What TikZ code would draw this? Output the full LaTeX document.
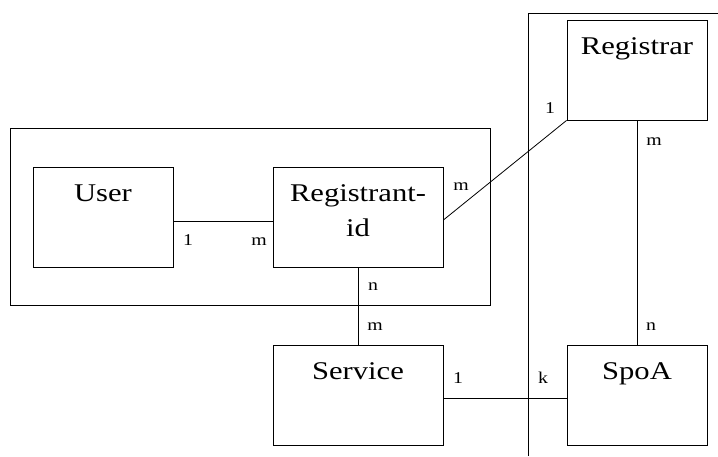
\documentclass[tikz,border=0pt]{standalone}
\usepackage{fontspec}
\setmainfont{Liberation Serif}[FakeStretch=1.2]
\newcommand{\boxfont}{\fontsize{25.5}{35}\selectfont}
\newcommand{\cardfont}{\fontsize{16.5}{20}\selectfont}

\begin{document}
\begin{tikzpicture}[x=1pt, y=-1pt, line width=0.8pt,
		entity/.style={draw, rectangle, inner sep=0pt, text height=34pt, text depth=66pt, minimum height=100pt, font=\boxfont},
		card/.style={anchor=base, inner sep=0pt, font=\cardfont}]
		\useasboundingbox (0,0) rectangle (718,456);

		% groups
		\draw (10,128) rectangle (490,305);
		\draw (528,456) -- (528,13) -- (718,13);

		% entities
		\node[entity, minimum width=140pt] (user) at (103,217) {User};
		\node[entity, minimum width=170pt] (regid) at (358,217) {\begin{tabular}[t]{@{}c@{}}Registrant-\\id\end{tabular}};
		\node[entity, minimum width=170pt] (service) at (358,395) {Service};
		\node[entity, minimum width=140pt] (registrar) at (637,70) {Registrar};
		\node[entity, minimum width=140pt] (spoa) at (637,395) {SpoA};

		% relations
		\draw ([yshift=-4pt]user.east) -- ([yshift=-4pt]regid.west);
		\draw ([yshift=-3pt]regid.east) -- (registrar.south west);
		\draw (regid.south) -- (service.north);
		\draw (registrar.south) -- (spoa.north);
		\draw ([yshift=-3pt]service.east) -- ([yshift=-3pt]spoa.west);

		% cardinalities
		\node[card] (user-card) at (188,245) {1};
		\node[card] (regid-card-w) at (259,245) {m};
		\node[card] (regid-card-e) at (461,190) {m};
		\node[card] (registrar-card-w) at (550,113) {1};
		\node[card] (registrar-card-s) at (654,145) {m};
		\node[card] (regid-card-s) at (373,290) {n};
		\node[card] (service-card-n) at (375,330) {m};
		\node[card] (spoa-card-n) at (651,330) {n};
		\node[card] (service-card-e) at (458,383) {1};
		\node[card] (spoa-card-w) at (543,383) {k};
	\end{tikzpicture}
\end{document}
